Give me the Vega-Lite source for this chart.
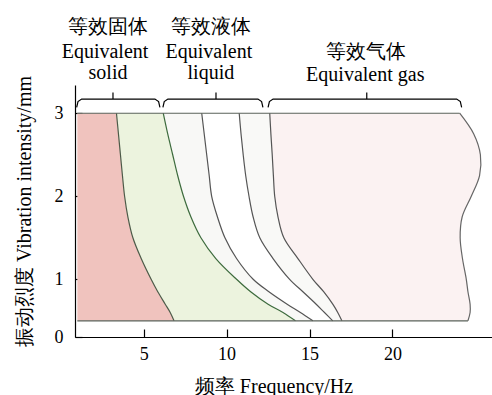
{
  "$schema": "https://vega.github.io/schema/vega-lite/v6.json",
  "autosize": {"type": "none"},
  "padding": {"left": 75, "top": 85, "right": 0, "bottom": 58},
  "width": 417,
  "height": 252,
  "background": "white",
  "config": {
    "view": {"stroke": null},
    "font": "Liberation Serif",
    "text": {"font": "Liberation Serif"},
    "axis": {
      "grid": false,
      "domainColor": "black",
      "tickColor": "black",
      "labelColor": "black",
      "titleColor": "black",
      "labelFont": "Liberation Serif",
      "titleFont": "Liberation Serif",
      "titleFontWeight": "normal",
      "labelFontSize": 18,
      "titleFontSize": 20,
      "domainWidth": 1.2,
      "tickWidth": 1.2
    }
  },
  "datasets": {
    "curves": [
      {"v": 3.0, "x0": 1.0, "c1": 3.36, "c2": 6.18, "c3": 8.5, "c4": 10.76, "c5": 12.6, "R": 24.05},
      {"v": 2.75, "x0": 1.0, "c1": 3.48, "c2": 6.45, "c3": 8.65, "c4": 10.87, "c5": 12.67, "R": 24.9},
      {"v": 2.5, "x0": 1.0, "c1": 3.6, "c2": 6.75, "c3": 8.8, "c4": 11.0, "c5": 12.75, "R": 25.3},
      {"v": 2.25, "x0": 1.0, "c1": 3.72, "c2": 7.05, "c3": 8.95, "c4": 11.15, "c5": 12.82, "R": 25.25},
      {"v": 2.0, "x0": 1.0, "c1": 3.85, "c2": 7.4, "c3": 9.1, "c4": 11.35, "c5": 12.9, "R": 24.75},
      {"v": 1.75, "x0": 1.0, "c1": 4.05, "c2": 7.85, "c3": 9.45, "c4": 11.6, "c5": 13.1, "R": 24.2},
      {"v": 1.5, "x0": 1.0, "c1": 4.35, "c2": 8.45, "c3": 9.9, "c4": 12.0, "c5": 13.45, "R": 24.08},
      {"v": 1.25, "x0": 1.0, "c1": 4.85, "c2": 9.35, "c3": 10.6, "c4": 12.8, "c5": 14.3, "R": 24.22},
      {"v": 1.0, "x0": 1.0, "c1": 5.45, "c2": 10.6, "c3": 11.6, "c4": 13.8, "c5": 15.2, "R": 24.45},
      {"v": 0.85, "x0": 1.0, "c1": 5.85, "c2": 11.45, "c3": 12.55, "c4": 14.6, "c5": 15.85, "R": 24.55},
      {"v": 0.7, "x0": 1.0, "c1": 6.3, "c2": 12.5, "c3": 13.65, "c4": 15.4, "c5": 16.4, "R": 24.68},
      {"v": 0.6, "x0": 1.0, "c1": 6.6, "c2": 13.4, "c3": 14.45, "c4": 15.9, "c5": 16.7, "R": 24.68},
      {"v": 0.5, "x0": 1.0, "c1": 6.83, "c2": 14.15, "c3": 15.2, "c4": 16.4, "c5": 16.95, "R": 24.55}
    ],
    "edges": [
      {"v": 3.0, "from": 1.0, "to": 24.05},
      {"v": 0.5, "from": 1.0, "to": 24.55}
    ],
    "brackets": [
      {"b": "solid", "i": 0, "x": 0.96, "v": 3.07},
      {"b": "solid", "i": 1, "x": 1.04, "v": 3.14},
      {"b": "solid", "i": 2, "x": 1.26, "v": 3.17},
      {"b": "solid", "i": 3, "x": 3.15, "v": 3.17},
      {"b": "solid", "i": 4, "x": 3.15, "v": 3.25},
      {"b": "solid", "i": 5, "x": 3.15, "v": 3.17},
      {"b": "solid", "i": 6, "x": 5.68, "v": 3.17},
      {"b": "solid", "i": 7, "x": 5.9, "v": 3.14},
      {"b": "solid", "i": 8, "x": 5.98, "v": 3.07},
      {"b": "liquid", "i": 0, "x": 6.16, "v": 3.07},
      {"b": "liquid", "i": 1, "x": 6.24, "v": 3.14},
      {"b": "liquid", "i": 2, "x": 6.46, "v": 3.17},
      {"b": "liquid", "i": 3, "x": 9.36, "v": 3.17},
      {"b": "liquid", "i": 4, "x": 9.36, "v": 3.25},
      {"b": "liquid", "i": 5, "x": 9.36, "v": 3.17},
      {"b": "liquid", "i": 6, "x": 11.89, "v": 3.17},
      {"b": "liquid", "i": 7, "x": 12.11, "v": 3.14},
      {"b": "liquid", "i": 8, "x": 12.19, "v": 3.07},
      {"b": "gas", "i": 0, "x": 12.5, "v": 3.07},
      {"b": "gas", "i": 1, "x": 12.58, "v": 3.14},
      {"b": "gas", "i": 2, "x": 12.8, "v": 3.17},
      {"b": "gas", "i": 3, "x": 18.45, "v": 3.17},
      {"b": "gas", "i": 4, "x": 18.45, "v": 3.25},
      {"b": "gas", "i": 5, "x": 18.45, "v": 3.17},
      {"b": "gas", "i": 6, "x": 23.87, "v": 3.17},
      {"b": "gas", "i": 7, "x": 24.09, "v": 3.14},
      {"b": "gas", "i": 8, "x": 24.17, "v": 3.07}
    ],
    "labels": [
      {"t": "等效固体", "x": 2.82, "v": 4.04},
      {"t": "Equivalent", "x": 2.67, "v": 3.74},
      {"t": "solid", "x": 2.85, "v": 3.48},
      {"t": "等效液体", "x": 9.05, "v": 4.04},
      {"t": "Equivalent", "x": 8.93, "v": 3.74},
      {"t": "liquid", "x": 9.05, "v": 3.48},
      {"t": "等效气体", "x": 18.43, "v": 3.74},
      {"t": "Equivalent gas", "x": 18.36, "v": 3.46}
    ]
  },
  "layer": [
    {
      "data": {"name": "curves"},
      "mark": {"type": "area", "orient": "horizontal", "interpolate": "catmull-rom", "color": "#f0c3be"},
      "encoding": {
        "y": {
          "field": "v",
          "type": "quantitative",
          "scale": {"domain": [0.305, 3.34], "nice": false, "zero": false},
          "axis": {
            "values": [0.305, 1, 2, 3],
            "labelExpr": "datum.value < 0.5 ? '0' : format(datum.value, 'd')",
            "tickSize": -7,
            "labelPadding": 19,
            "title": "振动烈度 Vibration intensity/mm",
            "titleX": -41,
            "titleBaseline": "bottom"
          }
        },
        "x": {
          "field": "x0",
          "type": "quantitative",
          "scale": {"domain": [0.86, 26.0], "nice": false, "zero": false},
          "axis": {
            "values": [5, 10, 15, 20],
            "tickSize": -8,
            "labelPadding": 16,
            "title": "频率 Frequency/Hz",
            "titleX": 198.5,
            "titleY": 55,
            "titleBaseline": "alphabetic",
            "titleAlign": "center"
          }
        },
        "x2": {"field": "c1"}
      }
    },
    {
      "data": {"name": "curves"},
      "mark": {"type": "area", "orient": "horizontal", "interpolate": "catmull-rom", "color": "#ecf3de"},
      "encoding": {"y": {"field": "v", "type": "quantitative"}, "x": {"field": "c1", "type": "quantitative"}, "x2": {"field": "c2"}}
    },
    {
      "data": {"name": "curves"},
      "mark": {"type": "area", "orient": "horizontal", "interpolate": "catmull-rom", "color": "#f8f8f6"},
      "encoding": {"y": {"field": "v", "type": "quantitative"}, "x": {"field": "c2", "type": "quantitative"}, "x2": {"field": "c3"}}
    },
    {
      "data": {"name": "curves"},
      "mark": {"type": "area", "orient": "horizontal", "interpolate": "catmull-rom", "color": "#f9f9f7"},
      "encoding": {"y": {"field": "v", "type": "quantitative"}, "x": {"field": "c4", "type": "quantitative"}, "x2": {"field": "c5"}}
    },
    {
      "data": {"name": "curves"},
      "mark": {"type": "area", "orient": "horizontal", "interpolate": "catmull-rom", "color": "#fbf2f2"},
      "encoding": {"y": {"field": "v", "type": "quantitative"}, "x": {"field": "c5", "type": "quantitative"}, "x2": {"field": "R"}}
    },
    {
      "data": {"name": "curves"},
      "transform": [{"fold": ["c1", "c2", "c3", "c4", "c5", "R"], "as": ["curve", "pos"]}],
      "mark": {"type": "line", "interpolate": "catmull-rom", "strokeWidth": 1.2},
      "encoding": {
        "y": {"field": "v", "type": "quantitative"},
        "x": {"field": "pos", "type": "quantitative"},
        "order": {"field": "v", "type": "quantitative"},
        "detail": {"field": "curve", "type": "nominal"},
        "color": {
          "field": "curve",
          "type": "nominal",
          "scale": {"domain": ["c1", "c2", "c3", "c4", "c5", "R"], "range": ["#4d5a48", "#3d6b3d", "#555555", "#555555", "#555555", "#666666"]},
          "legend": null
        }
      }
    },
    {
      "data": {"name": "edges"},
      "mark": {"type": "rule", "color": "#5a625a", "strokeWidth": 1.2},
      "encoding": {"y": {"field": "v", "type": "quantitative"}, "x": {"field": "from", "type": "quantitative"}, "x2": {"field": "to"}}
    },
    {
      "data": {"name": "brackets"},
      "mark": {"type": "line", "color": "black", "strokeWidth": 1.2},
      "encoding": {
        "y": {"field": "v", "type": "quantitative"},
        "x": {"field": "x", "type": "quantitative"},
        "order": {"field": "i", "type": "quantitative"},
        "detail": {"field": "b", "type": "nominal"}
      }
    },
    {
      "data": {"name": "labels"},
      "mark": {"type": "text", "fontSize": 20, "baseline": "middle", "align": "center", "color": "black", "font": "Liberation Serif"},
      "encoding": {
        "y": {"field": "v", "type": "quantitative"},
        "x": {"field": "x", "type": "quantitative"},
        "text": {"field": "t", "type": "nominal"}
      }
    }
  ]
}
